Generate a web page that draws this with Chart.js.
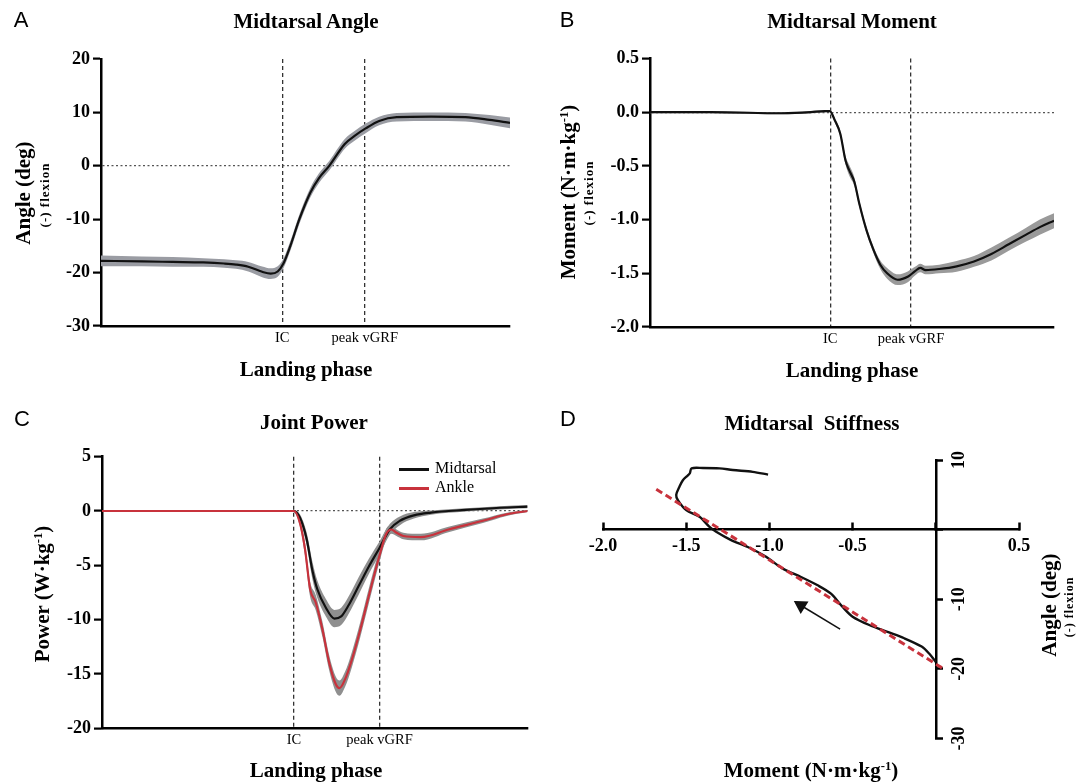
<!DOCTYPE html>
<html>
<head>
<meta charset="utf-8">
<title>Midtarsal landing mechanics</title>
<script src="https://cdn.jsdelivr.net/npm/chart.js@4.4.1/dist/chart.umd.min.js"></script>
<style>
  body { margin: 0; background: #fff; }
  #fig { position: relative; width: 1084px; height: 784px; overflow: hidden; font-family: 'Liberation Serif', 'Times New Roman', serif; color: #000; }
  canvas { position: absolute; }
  .t { position: absolute; white-space: nowrap; transform: translate(-50%, -50%); line-height: 1; }
  .r { transform: translate(-50%, -50%) rotate(-90deg); }
  .letter { font-family: 'Liberation Sans', Arial, sans-serif; font-size: 22px; }
  .title { font-weight: bold; font-size: 21px; }
  .axt { font-weight: bold; font-size: 21px; }
  .sub { font-weight: bold; font-size: 13px; letter-spacing: 1px; }
  .leg { position: absolute; font-size: 16px; line-height: 1; transform: translateY(-50%); }
  .sw { position: absolute; width: 30px; height: 3px; }
  sup { font-size: 0.6em; vertical-align: 0.55em; line-height: 0; }
</style>
</head>
<body>
<div id="fig">
  <canvas id="chartA" width="540" height="390" style="left:0;top:0"></canvas>
  <canvas id="chartB" width="544" height="390" style="left:540px;top:0"></canvas>
  <canvas id="chartC" width="540" height="394" style="left:0;top:390px"></canvas>
  <canvas id="chartD" width="544" height="394" style="left:540px;top:390px"></canvas>

  <div class="t letter" style="left:21px;top:20px">A</div>
  <div class="t title" style="left:306px;top:21px">Midtarsal Angle</div>
  <div class="t axt r" style="left:23px;top:193px">Angle (deg)</div>
  <div class="t sub r" style="left:44px;top:195px">(-) flexion</div>
  <div class="t axt" style="left:306px;top:369px">Landing phase</div>

  <div class="t letter" style="left:567px;top:20px">B</div>
  <div class="t title" style="left:852px;top:21px">Midtarsal Moment</div>
  <div class="t axt r" style="left:568px;top:192px">Moment (N·m·kg<sup>-1</sup>)</div>
  <div class="t sub r" style="left:588px;top:193px">(-) flexion</div>
  <div class="t axt" style="left:852px;top:370px">Landing phase</div>

  <div class="t letter" style="left:22px;top:419px">C</div>
  <div class="t title" style="left:314px;top:422px">Joint Power</div>
  <div class="t axt r" style="left:42px;top:594px">Power (W·kg<sup>-1</sup>)</div>
  <div class="t axt" style="left:316px;top:770px">Landing phase</div>
  <div class="sw" style="left:399px;top:468px;background:#111"></div>
  <div class="leg" style="left:435px;top:468px">Midtarsal</div>
  <div class="sw" style="left:399px;top:487px;background:#c8323c"></div>
  <div class="leg" style="left:435px;top:487px">Ankle</div>

  <div class="t letter" style="left:568px;top:419px">D</div>
  <div class="t title" style="left:812px;top:423px">Midtarsal&nbsp; Stiffness</div>
  <div class="t axt" style="left:811px;top:770px">Moment (N·m·kg<sup>-1</sup>)</div>
  <div class="t axt r" style="left:1049px;top:605px">Angle (deg)</div>
  <div class="t sub r" style="left:1069px;top:607px;font-size:12px">(-) flexion</div>
</div>
<script>
// A: midtarsal angle over the landing phase (0-100 %)
const angleX = [0, 10, 17.5, 25, 30.1, 33, 36, 39.4, 41.5, 43.2, 44.6, 46.3, 48.5, 51.2, 53.3, 55.8, 59.6, 62, 64.7, 68, 72.3, 80.7, 89.1, 95, 100];
const angleMean = [-17.8, -17.9, -18.0, -18.1, -18.3, -18.5, -18.9, -19.85, -20.2, -19.8, -18.3, -15.0, -10.0, -5.0, -2.3, 0, 4.1, 5.6, 7.0, 8.4, 9.1, 9.2, 9.1, 8.6, 8.05];
const angleSd = [1.0, 0.9, 0.9, 0.8, 0.8, 0.8, 0.9, 1.0, 1.0, 1.0, 0.9, 0.9, 0.9, 0.9, 0.9, 0.9, 0.9, 0.9, 0.9, 0.8, 0.8, 0.8, 0.8, 0.9, 1.0];

// B: midtarsal moment
const momentX = [0, 15, 32.9, 39.8, 43.2, 44.5, 45.8, 47.1, 48.4, 49.3, 50.6, 51.8, 53.6, 55.3, 57.0, 58.7, 61.3, 63.9, 65.6, 66.9, 68.2, 71.6, 75.9, 80.2, 84.5, 88.8, 93.1, 96.5, 100];
const momentMean = [0, 0, -0.01, 0, 0.01, 0.01, -0.08, -0.2, -0.45, -0.54, -0.65, -0.85, -1.10, -1.28, -1.42, -1.50, -1.56, -1.53, -1.48, -1.45, -1.47, -1.46, -1.435, -1.39, -1.32, -1.23, -1.14, -1.07, -1.01];
const momentSd = [0.01, 0.01, 0.01, 0.01, 0.01, 0.01, 0.02, 0.03, 0.04, 0.05, 0.04, 0.03, 0.03, 0.03, 0.04, 0.05, 0.05, 0.05, 0.04, 0.04, 0.04, 0.04, 0.05, 0.05, 0.06, 0.06, 0.065, 0.07, 0.07];

// C: joint power, midtarsal and ankle
const powerMidX = [0, 20, 40.9, 44.1, 45.1, 46.5, 48.1, 49.4, 50.6, 52.6, 54.6, 56.2, 57.9, 60.3, 62.7, 65.2, 67.6, 70.0, 73.3, 77.3, 85.4, 93.5, 100];
const powerMid = [0, 0, 0, 0, 0, -0.6, -2.6, -5.4, -7.2, -8.9, -9.9, -9.7, -8.7, -6.9, -5.1, -3.4, -1.7, -0.9, -0.4, -0.15, 0.1, 0.3, 0.4];
const powerMidSd = [0.05, 0.05, 0.05, 0.05, 0.1, 0.3, 0.6, 0.8, 0.8, 0.8, 0.8, 0.8, 0.8, 0.8, 0.7, 0.6, 0.5, 0.4, 0.3, 0.2, 0.15, 0.15, 0.15];
const powerAnkX = [0, 20, 40.9, 44.1, 45.1, 46.5, 47.7, 48.9, 50.2, 51.8, 53.4, 55.0, 55.8, 57.1, 58.7, 60.7, 62.7, 65.2, 66.8, 68.0, 69.2, 70.8, 74.9, 81.4, 89.5, 95.1, 100];
const powerAnk = [0, 0, 0, 0, 0, -1.1, -3.5, -7.2, -8.4, -10.9, -14.0, -16.0, -16.3, -15.5, -13.7, -10.9, -7.8, -4.1, -2.1, -1.7, -2.0, -2.3, -2.4, -1.7, -0.9, -0.3, 0.0];
const powerAnkSd = [0.05, 0.05, 0.05, 0.05, 0.1, 0.3, 0.6, 0.7, 0.7, 0.7, 0.7, 0.7, 0.7, 0.7, 0.7, 0.7, 0.7, 0.6, 0.5, 0.4, 0.3, 0.3, 0.3, 0.25, 0.2, 0.15, 0.1];

// event markers (IC, peak vGRF) per panel, % of landing phase
const eventsA = [44.3, 64.5];
const eventsB = [44.6, 64.6];
const eventsC = [45.1, 65.2];
const eventLabels = ['IC', 'peak vGRF'];

// D: angle vs moment loop, linear fit and direction arrow
const stiffMoment = [0.0, -0.04, -0.085, -0.19, -0.29, -0.40, -0.50, -0.56, -0.63, -0.71, -0.81, -0.92, -1.02, -1.13, -1.23, -1.32, -1.36, -1.42, -1.50, -1.55, -1.56, -1.54, -1.52, -1.49, -1.478, -1.468, -1.40, -1.30, -1.22, -1.10, -1.008];
const stiffAngle = [-19.0, -17.8, -16.8, -15.6, -14.7, -13.7, -12.5, -11.1, -9.2, -8.0, -6.8, -5.6, -3.9, -2.5, -1.5, -0.3, 0.4, 1.85, 2.8, 4.25, 5.0, 6.2, 7.1, 7.8, 8.1, 8.8, 8.85, 8.8, 8.56, 8.3, 7.9];
const fitMoment = [-1.68, 0.04];
const fitAngle = [5.8, -19.9];
const arrowMoment = [-0.575, -0.81];
const arrowAngle = [-14.3, -10.9];

Chart.defaults.font.family = "'Liberation Serif', 'Times New Roman', serif";
Chart.defaults.color = '#000';
Chart.defaults.animation = false;

const RED = '#c8323c';
const pts = (xs, ys) => xs.map((x, i) => ({x: x, y: ys[i]}));

function band(xs, mean, sd, color, order) {
    return [
        { data: pts(xs, mean.map((v, i) => v + sd[i])), borderWidth: 0, pointRadius: 0, fill: false, order: order },
        { data: pts(xs, mean.map((v, i) => v - sd[i])), borderWidth: 0, pointRadius: 0, fill: '-1', backgroundColor: color, order: order }
    ];
}

function meanLine(xs, mean, color, order) {
    return { data: pts(xs, mean), borderColor: color, borderWidth: 2.2, pointRadius: 0, fill: false, order: order };
}

function phaseOptions(o) {
    return {
        responsive: false,
        cubicInterpolationMode: 'monotone',
        layout: { padding: { left: 0, top: o.top, right: o.right, bottom: 0 } },
        plugins: { legend: { display: false }, tooltip: { enabled: false } },
        scales: {
            x: {
                type: 'linear', min: 0, max: 100,
                afterBuildTicks: s => { s.ticks = o.events.map(v => ({ value: v })); },
                afterFit: s => { s.height = o.xh; },
                ticks: { callback: (v, i) => eventLabels[i], font: { size: 14.5 }, padding: 3, maxRotation: 0, autoSkip: false },
                grid: { drawTicks: false, color: '#333', lineWidth: 1.3 },
                border: { color: '#000', width: 2.5, dash: [4, 3] }
            },
            y: {
                min: o.min, max: o.max,
                afterFit: s => { s.width = o.yw; },
                ticks: { stepSize: o.step, font: { size: 18, weight: 'bold' }, padding: 3, callback: v => v.toFixed(o.dec) },
                grid: {
                    color: c => (c.tick && c.tick.value === 0) ? '#555' : 'rgba(0,0,0,0)',
                    lineWidth: 1.2, tickColor: '#000', tickLength: 8, tickWidth: 2.2
                },
                border: { color: '#000', width: 2.5, dash: [2, 2.5] }
            }
        }
    };
}

new Chart(document.getElementById('chartA'), {
    type: 'line',
    data: {
        datasets: [meanLine(angleX, angleMean, '#111', 0)].concat(band(angleX, angleMean, angleSd, '#9a9ca3', 1))
    },
    options: phaseOptions({ top: 59, right: 30, xh: 64, yw: 101, min: -30, max: 20, step: 10, dec: 0, events: eventsA })
});

new Chart(document.getElementById('chartB'), {
    type: 'line',
    data: {
        datasets: [meanLine(momentX, momentMean, '#111', 0)].concat(band(momentX, momentMean, momentSd, '#9a9a9a', 1))
    },
    options: phaseOptions({ top: 58.5, right: 30, xh: 63, yw: 110, min: -2, max: 0.5, step: 0.5, dec: 1, events: eventsB })
});

new Chart(document.getElementById('chartC'), {
    type: 'line',
    data: {
        datasets: [meanLine(powerAnkX, powerAnk, RED, 0), meanLine(powerMidX, powerMid, '#111', 1)]
            .concat(band(powerAnkX, powerAnk, powerAnkSd, '#8f8f8f', 2))
            .concat(band(powerMidX, powerMid, powerMidSd, '#8f8f8f', 3))
    },
    options: phaseOptions({ top: 66.7, right: 12.4, xh: 55.7, yw: 102, min: -20, max: 5, step: 5, dec: 0, events: eventsC })
});

// tick labels of the vertical axis in D sit right of the axis, turned 90 degrees
const sideLabels = {
    id: 'sideLabels',
    afterDraw(chart) {
        const xs = chart.scales.x, ys = chart.scales.y, ctx = chart.ctx;
        const x0 = xs.getPixelForValue(0) + 24;
        ctx.save();
        ctx.font = "bold 18px 'Liberation Serif', serif";
        ctx.fillStyle = '#000';
        ctx.textAlign = 'center';
        ctx.textBaseline = 'middle';
        ys.ticks.forEach(t => {
            if (t.value === 0) return;
            ctx.save();
            ctx.translate(x0, ys.getPixelForValue(t.value));
            ctx.rotate(-Math.PI / 2);
            ctx.fillText(String(t.value), 0, 0);
            ctx.restore();
        });
        ctx.restore();
    }
};

new Chart(document.getElementById('chartD'), {
    type: 'scatter',
    data: {
        datasets: [
            { data: pts(fitMoment, fitAngle), showLine: true, borderColor: RED, borderWidth: 3, borderDash: [7, 4], pointRadius: 0, order: 0 },
            { data: pts(stiffMoment, stiffAngle), showLine: true, borderColor: '#111', borderWidth: 2.4, pointRadius: 0, tension: 0.3, order: 1 },
            { data: pts(arrowMoment, arrowAngle), showLine: true, borderColor: '#111', borderWidth: 1.5,
              pointRadius: [0, 7], pointStyle: 'triangle', pointRotation: [0, -58], pointBackgroundColor: '#111', pointBorderColor: '#111', order: 2 }
        ]
    },
    options: {
        responsive: false,
        layout: { padding: { left: 63, top: 70, right: 65, bottom: 45.5 } },
        plugins: { legend: { display: false }, tooltip: { enabled: false } },
        scales: {
            x: {
                type: 'linear', position: { y: 0 }, min: -2, max: 0.5,
                afterFit: s => { s.height = 0; },
                ticks: { stepSize: 0.5, callback: v => v === 0 ? '' : v.toFixed(1), font: { size: 18, weight: 'bold' }, padding: 14, maxRotation: 0, autoSkip: false },
                grid: { drawOnChartArea: false, tickLength: -8, tickWidth: 2.5, tickColor: '#000' },
                border: { color: '#000', width: 2.5 }
            },
            y: {
                type: 'linear', position: { x: 0 }, min: -30, max: 10,
                afterFit: s => { s.width = 0; },
                ticks: { stepSize: 10, display: false },
                grid: { drawOnChartArea: false, tickLength: -8, tickWidth: 2.5, tickColor: '#000' },
                border: { color: '#000', width: 2.5 }
            }
        }
    },
    plugins: [sideLabels]
});
</script>
</body>
</html>
